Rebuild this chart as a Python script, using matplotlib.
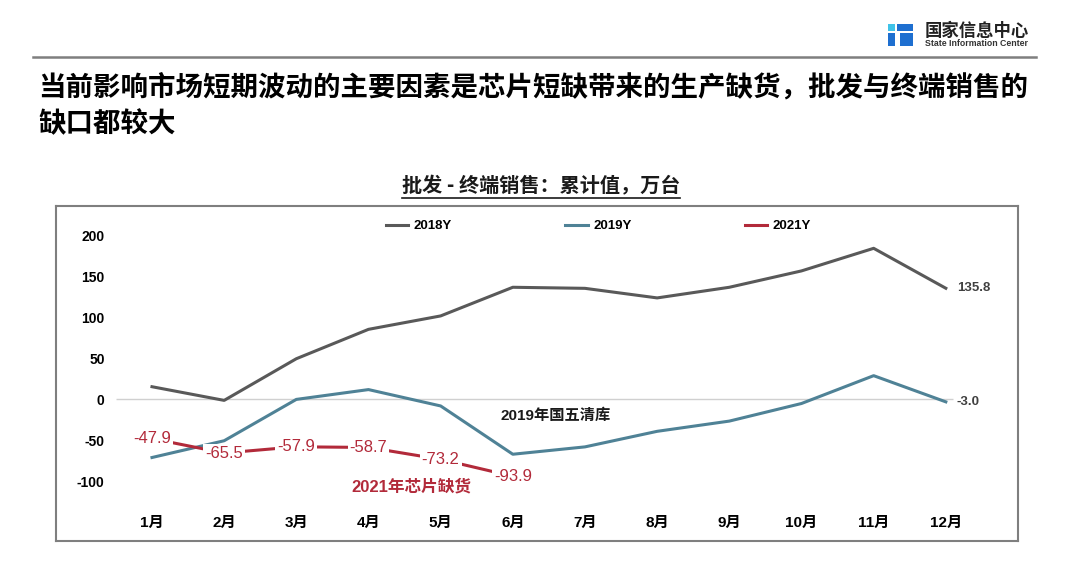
import matplotlib
matplotlib.use("Agg")
import matplotlib.pyplot as plt
from matplotlib.lines import Line2D
from matplotlib.patches import Rectangle

plt.rcParams['font.family'] = ['Liberation Sans', 'Noto Sans CJK SC', 'DejaVu Sans']

months = ["1月", "2月", "3月", "4月", "5月", "6月", "7月", "8月", "9月", "10月", "11月", "12月"]
y2018 = [15.5, -1.2, 49.7, 85.6, 102, 137, 135.7, 124, 137, 157, 184.6, 135.8]
y2019 = [-71, -50.5, 0, 12, -8, -67, -58, -39, -26.5, -5, 29, -3.0]
y2021 = [-47.9, -65.5, -57.9, -58.7, -73.2, -93.9]
yticks = [200, 150, 100, 50, 0, -50, -100]

c18 = "#595959"
c19 = "#4F8296"
c21 = "#B22A3A"

W, H = 1080, 588
fig = plt.figure(figsize=(10.8, 5.88), dpi=100)

# header
fig.text(925 / W, 1 - 31 / H, "国家信息中心", fontsize=12.5, fontweight="bold",
         family="Noto Sans CJK SC", color="#222222", va="center")
fig.text(925 / W, 1 - 44 / H, "State Information Center", fontsize=6.3,
         fontweight="bold", color="#333333", va="center")
for (x0, y0, w, h, c) in [(888, 24, 7, 7, "#3FC3E8"), (897, 24, 16, 7, "#1E6FD0"),
                          (888, 33, 7, 13, "#1E6FD0"), (900, 33, 13, 13, "#1E6FD0")]:
    fig.add_artist(Rectangle((x0 / W, 1 - (y0 + h) / H), w / W, h / H,
                             transform=fig.transFigure, color=c, lw=0))
fig.add_artist(Line2D([33 / W, 1036 / W], [1 - 57 / H, 1 - 57 / H], color="#7f7f7f", lw=1.8))

fig.text(38 / W, 1 - 88 / H, "当前影响市场短期波动的主要因素是芯片短缺带来的生产缺货，批发与终端销售的",
         fontsize=19.8, fontweight="bold", family="Noto Sans CJK SC", va="center")
fig.text(38 / W, 1 - 124 / H, "缺口都较大", fontsize=19.8, fontweight="bold",
         family="Noto Sans CJK SC", va="center")

ttl = fig.text(541 / W, 1 - 186 / H, "批发 - 终端销售：累计值，万台", fontsize=14.5,
               fontweight="bold", family="Noto Sans CJK SC", ha="center", va="center",
               color="#1a1a1a")

ax = fig.add_axes([56 / W, (H - 541) / H, 962 / W, 335 / H])
x = list(range(1, 13))
ax.hlines(0, 0.5, 12.1, color="#d0d0d0", lw=1)
ax.plot(x, y2018, color=c18, lw=2.2, label="2018Y")
ax.plot(x, y2019, color=c19, lw=2.2, label="2019Y")
ax.plot(x[:6], y2021, color=c21, lw=2.2, label="2021Y")

for xi, v in zip(x, y2021):
    ax.text(xi, v, f"{v:.1f}", color=c21, fontsize=12, ha="center", va="center",
            bbox=dict(facecolor="white", edgecolor="none", pad=1.5))

ax.text(12.15, y2018[-1], f"{y2018[-1]:.1f}", color="#404040", fontsize=9.5,
        fontweight="bold", ha="left", va="center")
ax.text(12.15, y2019[-1], f"{y2019[-1]:.1f}", color="#404040", fontsize=9.5,
        fontweight="bold", ha="left", va="center")

ax.text(6.6, -20, "2019年国五清库", fontsize=11, fontweight="bold", color="#1a1a1a",
        ha="center", va="center")
ax.text(4.6, -107, "2021年芯片缺货", fontsize=12, fontweight="bold", color=c21,
        ha="center", va="center")

ax.set_xlim(-0.33, 13.0)
ax.set_ylim(-173, 236.3)
ax.set_xticks(x)
ax.set_xticklabels(months, fontsize=11, fontweight="bold")
ax.set_yticks(yticks)
ax.set_yticklabels([str(t) for t in yticks], fontsize=10, fontweight="bold")
ax.tick_params(axis="y", length=0, pad=-35)
ax.tick_params(axis="x", length=0, pad=-18)
for s in ax.spines.values():
    s.set_color("#7f7f7f")
    s.set_linewidth(1.5)

leg = ax.legend(ncol=3, loc="center", bbox_to_anchor=(0.564, 0.94), frameon=False,
                handlelength=1.7, handletextpad=0.4, columnspacing=8.6,
                prop=dict(weight="bold", size=9.5))

# underline for the chart title
fig.canvas.draw()
bb = ttl.get_window_extent()
fig.add_artist(Line2D([bb.x0 / W, bb.x1 / W], [(bb.y0 - 1) / H, (bb.y0 - 1) / H],
                      color="#1a1a1a", lw=1.2))

fig.savefig("out.png", dpi=100)
